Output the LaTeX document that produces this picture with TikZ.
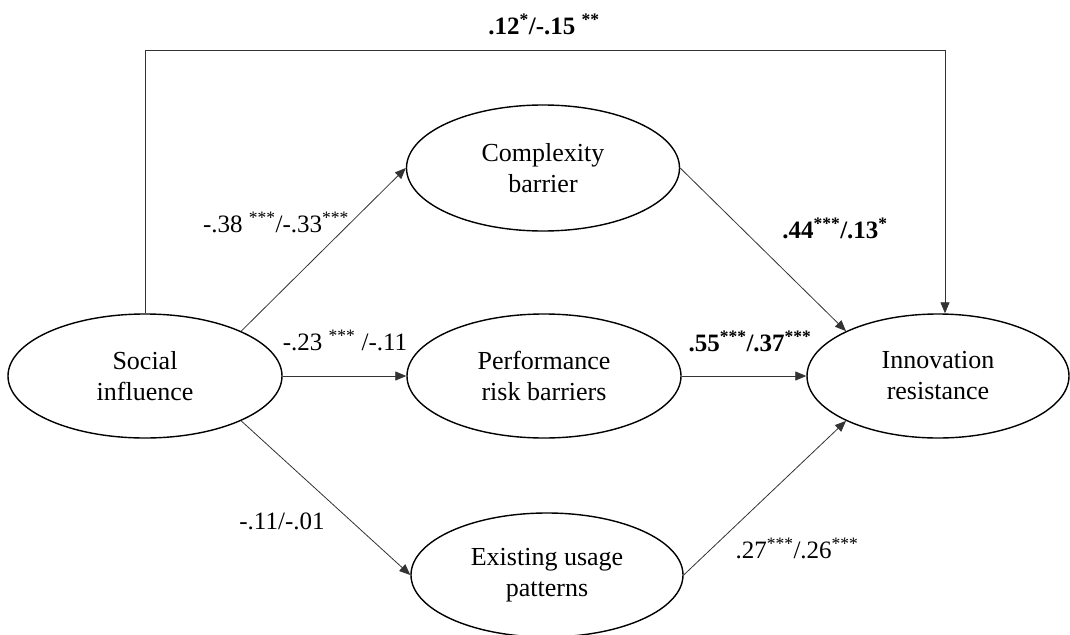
\documentclass[tikz,border=0pt]{standalone}
\usepackage{fontspec}
\setmainfont{Liberation Serif}
\usetikzlibrary{shapes.geometric,arrows.meta}
\tikzset{
  latent/.style={draw=black, line width=1.4pt, ellipse, minimum width=274pt, minimum height=124pt, inner sep=0pt, align=center, font=\fontsize{26}{31}\selectfont},
  path/.style={draw=black!80, line width=0.8pt, -{Triangle[length=11pt,width=9pt]}},
  lab/.style={font=\fontsize{25}{30}\selectfont, inner sep=0pt}
}
\begin{document}
\begin{tikzpicture}[x=1pt,y=-1pt]
\useasboundingbox (0,0) rectangle (1070,634);
\node[latent] (si) at (145,376) {Social\\influence};
\node[latent, minimum width=273pt, minimum height=126pt] (cb) at (543,168) {Complexity\\barrier};
\node[latent] (pr) at (544,376) {Performance\\risk barriers};
\node[latent, minimum width=272pt] (eu) at (547,575) {Existing usage\\patterns};
\node[latent, minimum width=262pt] (ir) at (938,376) {Innovation\\resistance};
\coordinate (tl) at (145,50);
\coordinate (tr) at (945,50);
\draw[path] (si.north) -- (tl) -- (tr) -- (tr |- ir.north);
\draw[path] (si.25) -- (cb.west);
\draw[path] (si.east) -- (pr.west);
\draw[path] (si.-25) -- (eu.west);
\draw[path] (cb.east) -- (ir.154);
\draw[path] (pr.east) -- (ir.west);
\draw[path] (eu.east) -- (ir.206);
\node[lab] (l0) at (544,24) {\textbf{.12\textsuperscript{*}/-.15 \textsuperscript{**}}};
\node[lab] (l1) at (276,222) {-.38 \textsuperscript{***}/-.33\textsuperscript{***}};
\node[lab] (l2) at (345,340) {-.23 \textsuperscript{***} /-.11};
\node[lab] (l3) at (282,521) {-.11/-.01};
\node[lab] (l4) at (835,228) {\textbf{.44\textsuperscript{***}/.13\textsuperscript{*}}};
\node[lab] (l5) at (750,341) {\textbf{.55\textsuperscript{***}/.37\textsuperscript{***}}};
\node[lab] (l6) at (797,548) {.27\textsuperscript{***}/.26\textsuperscript{***}};
\end{tikzpicture}
\end{document}
